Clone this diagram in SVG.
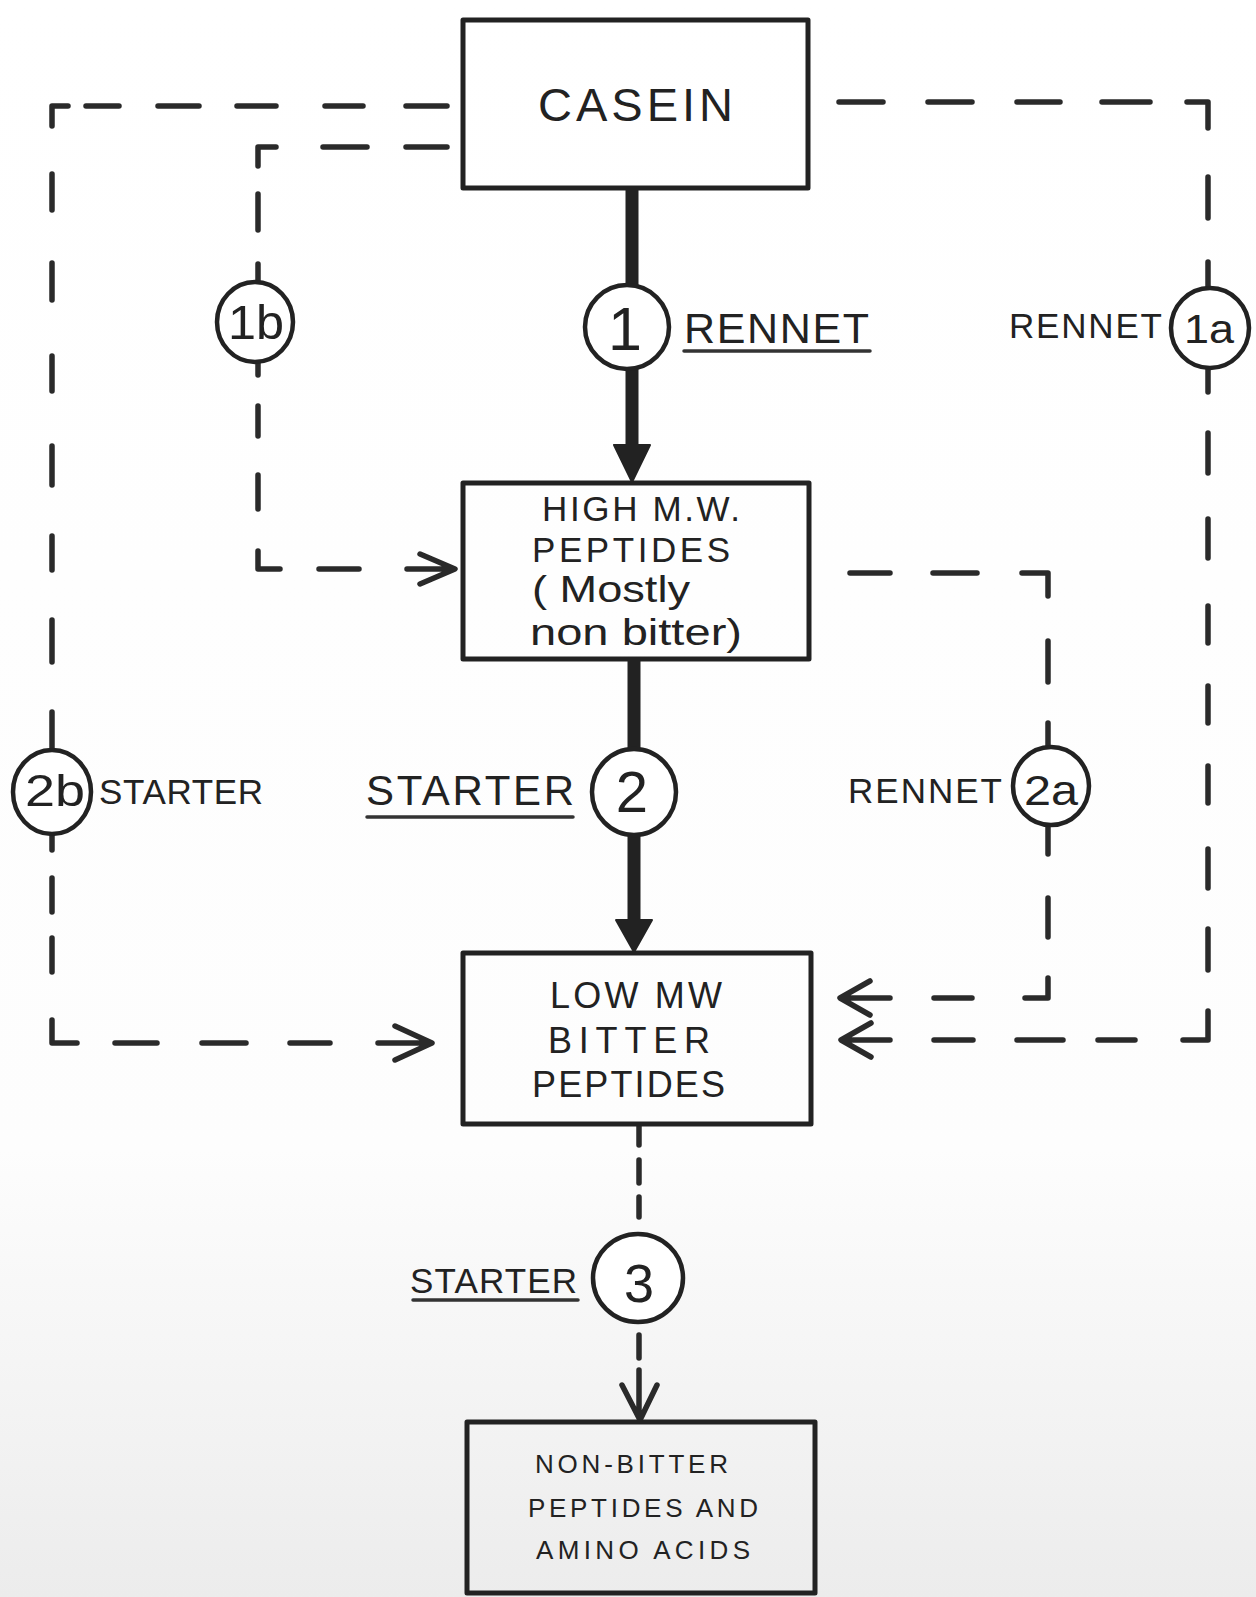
<svg xmlns="http://www.w3.org/2000/svg" width="1256" height="1597" viewBox="0 0 1256 1597">
<defs>
<linearGradient id="bg" x1="0" y1="0" x2="0" y2="1">
<stop offset="0" stop-color="#ffffff"/>
<stop offset="0.72" stop-color="#fdfdfd"/>
<stop offset="1" stop-color="#ececec"/>
</linearGradient>
</defs>
<style>
.box{fill:none;stroke:#222;stroke-width:5;stroke-linejoin:round}
.dash{fill:none;stroke:#2a2a2a;stroke-width:5.5;stroke-linecap:round;stroke-linejoin:round}
.solid{fill:none;stroke:#222;stroke-width:13}
.head{fill:#222;stroke:#222;stroke-width:2;stroke-linejoin:round}
.circ{fill:#fff;stroke:#222;stroke-width:4.5}
.ul{stroke:#333;stroke-width:3.5;stroke-linecap:round}
.t{font-family:'Liberation Sans',Arial,sans-serif;fill:#222}
</style>
<rect x="0" y="0" width="1256" height="1597" fill="url(#bg)"/>

<g id="connectors">
<line class="solid" x1="632" y1="188" x2="632" y2="288"/>
<line class="solid" x1="632" y1="366" x2="632" y2="448"/>
<polygon class="head" points="614,445 650,445 632,482"/>
<line class="solid" x1="634" y1="659" x2="634" y2="752"/>
<line class="solid" x1="634" y1="832" x2="634" y2="922"/>
<polygon class="head" points="616,920 652,920 634,952"/>
<path class="dash" d="M639,1126 L639,1145 M639,1160 L639,1183 M639,1197 L639,1217 M639,1335 L639,1358 M639,1370 L639,1418 M622,1385 L640,1420 L657,1385"/>
<path class="dash" d="M52,126 L52,106 L68,106 M86,106 L119,106 M158,106 L199,106 M237,106 L276,106 M325,106 L363,106 M406,106 L447,106 M52,174 L52,210 M52,263 L52,300 M52,356 L52,391 M52,446 L52,485 M52,536 L52,570 M52,620 L52,662 M52,712 L52,752 M52,832 L52,850 M52,878 L52,912 M52,938 L52,972 M52,1020 L52,1043 L77,1043 M115,1043 L157,1043 M202,1043 L246,1043 M290,1043 L330,1043 M378,1043 L430,1043 M395,1026 L432,1043 L395,1060"/>
<path class="dash" d="M258,166 L258,147 L276,147 M323,147 L367,147 M406,147 L447,147 M258,194 L258,230 M258,264 L258,284 M258,360 L258,375 M258,406 L258,436 M258,475 L258,509 M258,551 L258,569 L280,569 M319,569 L359,569 M407,569 L453,569 M420,554 L455,569 L420,584"/>
<path class="dash" d="M839,102 L883,102 M928,102 L972,102 M1017,102 L1060,102 M1102,102 L1150,102 M1187,102 L1208,102 L1208,128 M1208,177 L1208,218 M1208,262 L1208,290 M1208,366 L1208,392 M1208,433 L1208,473 M1208,519 L1208,558 M1208,606 L1208,643 M1208,686 L1208,723 M1208,766 L1208,803 M1208,849 L1208,888 M1208,929 L1208,970 M1208,1011 L1208,1040 L1183,1040 M1135,1040 L1098,1040 M1063,1040 L1017,1040 M973,1040 L934,1040 M890,1040 L843,1040 M871,1023 L841,1040 L871,1057"/>
<path class="dash" d="M850,573 L890,573 M933,573 L977,573 M1022,573 L1048,573 L1048,596 M1048,641 L1048,682 M1048,723 L1048,749 M1048,823 L1048,854 M1048,898 L1048,937 M1048,978 L1048,998 L1025,998 M972,998 L934,998 M890,998 L842,998 M870,981 L840,998 L870,1015"/>
<line class="ul" x1="684" y1="351" x2="870" y2="351"/>
<line class="ul" x1="367" y1="817" x2="573" y2="817"/>
<line class="ul" x1="413" y1="1300" x2="578" y2="1300"/>
</g>

<g id="casein">
<rect class="box" x="463" y="20" width="345" height="168"/>
<text class="t" x="538" y="121" font-size="47" textLength="195" lengthAdjust="spacing">CASEIN</text>
</g>

<g id="high-mw">
<rect class="box" x="463" y="483" width="346" height="176"/>
<text class="t" x="542" y="521" font-size="35" textLength="198" lengthAdjust="spacing">HIGH M.W.</text>
<text class="t" x="532" y="562" font-size="35" textLength="198" lengthAdjust="spacing">PEPTIDES</text>
<text class="t" x="532" y="602" font-size="36" textLength="158" lengthAdjust="spacingAndGlyphs">( Mostly</text>
<text class="t" x="530" y="645" font-size="36" textLength="212" lengthAdjust="spacingAndGlyphs">non bitter)</text>
</g>

<g id="low-mw">
<rect class="box" x="463" y="953" width="348" height="171"/>
<text class="t" x="550" y="1008" font-size="36" textLength="172" lengthAdjust="spacing">LOW MW</text>
<text class="t" x="548" y="1053" font-size="36" textLength="162" lengthAdjust="spacing">BITTER</text>
<text class="t" x="532" y="1097" font-size="36" textLength="193" lengthAdjust="spacing">PEPTIDES</text>
</g>

<g id="non-bitter">
<rect class="box" x="467" y="1422" width="348" height="171" stroke-width="6"/>
<text class="t" x="535" y="1473" font-size="26" textLength="193" lengthAdjust="spacing">NON-BITTER</text>
<text class="t" x="528" y="1517" font-size="26" textLength="230" lengthAdjust="spacing">PEPTIDES AND</text>
<text class="t" x="536" y="1559" font-size="26" textLength="214" lengthAdjust="spacing">AMINO  ACIDS</text>
</g>

<g id="step-1">
<ellipse class="circ" cx="627" cy="327" rx="42" ry="42"/>
<text class="t" x="625" y="350" font-size="61" text-anchor="middle">1</text>
<text class="t" x="684" y="343" font-size="43" textLength="185" lengthAdjust="spacing">RENNET</text>
</g>

<g id="step-1a">
<ellipse class="circ" cx="1210" cy="328" rx="39" ry="40"/>
<text class="t" x="1184" y="343" font-size="40" textLength="50" lengthAdjust="spacingAndGlyphs">1a</text>
<text class="t" x="1009" y="338" font-size="35" textLength="153" lengthAdjust="spacing">RENNET</text>
</g>

<g id="step-1b">
<ellipse class="circ" cx="255" cy="322" rx="38" ry="40"/>
<text class="t" x="228" y="339" font-size="48" textLength="56" lengthAdjust="spacingAndGlyphs">1b</text>
</g>

<g id="step-2">
<ellipse class="circ" cx="634" cy="792" rx="42" ry="43"/>
<text class="t" x="632" y="812" font-size="58" text-anchor="middle">2</text>
<text class="t" x="366" y="805" font-size="42" textLength="208" lengthAdjust="spacing">STARTER</text>
</g>

<g id="step-2a">
<ellipse class="circ" cx="1051" cy="786" rx="38" ry="39"/>
<text class="t" x="1024" y="805" font-size="42" textLength="54" lengthAdjust="spacingAndGlyphs">2a</text>
<text class="t" x="848" y="803" font-size="35" textLength="154" lengthAdjust="spacing">RENNET</text>
</g>

<g id="step-2b">
<ellipse class="circ" cx="52" cy="792" rx="39" ry="42"/>
<text class="t" x="25" y="806" font-size="44" textLength="60" lengthAdjust="spacingAndGlyphs">2b</text>
<text class="t" x="99" y="804" font-size="35" textLength="164" lengthAdjust="spacing">STARTER</text>
</g>

<g id="step-3">
<ellipse class="circ" cx="638" cy="1278" rx="45" ry="44"/>
<text class="t" x="639" y="1302" font-size="54" text-anchor="middle">3</text>
<text class="t" x="410" y="1293" font-size="35" textLength="167" lengthAdjust="spacing">STARTER</text>
</g>
</svg>
